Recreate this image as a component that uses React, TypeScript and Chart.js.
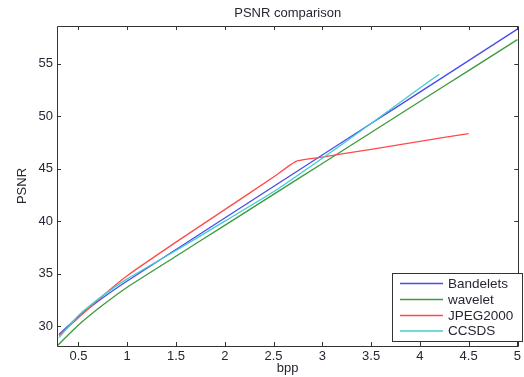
import React, { useEffect, useRef } from "react";
import { Chart, registerables } from "chart.js";

Chart.register(...registerables);

const bandeletsBpp = [0.3, 0.5, 0.75, 1, 1.5, 2, 2.5, 3, 3.5, 4, 4.5, 5];
const bandeletsPsnr = [29.2, 30.9, 32.7, 34.3, 37.3, 40.3, 43.3, 46.3, 49.3, 52.3, 55.3, 58.3];

const waveletBpp = [0.28, 0.5, 0.75, 1, 1.5, 2, 2.5, 3, 3.5, 4, 4.5, 5];
const waveletPsnr = [28.1, 30.1, 32.0, 33.7, 36.65, 39.6, 42.55, 45.5, 48.45, 51.4, 54.35, 57.3];

const jpegBpp = [0.3, 0.5, 0.75, 1, 1.5, 2, 2.5, 2.73, 3, 3.5, 4, 4.5];
const jpegPsnr = [29.1, 30.8, 32.9, 34.8, 38.0, 41.1, 44.2, 45.7, 46.1, 46.85, 47.6, 48.35];

const ccsdsBpp = [0.3, 0.5, 0.75, 1, 1.5, 2, 2.5, 3, 3.5, 4, 4.2];
const ccsdsPsnr = [28.9, 31.0, 32.9, 34.5, 37.2, 40.0, 42.8, 46.0, 49.3, 52.7, 54.0];

const xTicks = [0.5, 1, 1.5, 2, 2.5, 3, 3.5, 4, 4.5, 5];
const yTicks = [30, 35, 40, 45, 50, 55];

const seriesNames = ["Bandelets", "wavelet", "JPEG2000", "CCSDS"];
const seriesColors = ["#4a4af0", "#3c9a3c", "#ff4a4a", "#40cccc"];

const FONT = "'Liberation Sans', Arial, sans-serif";
const TEXT = "#262634";

function toPoints(xs: number[], ys: number[]) {
  return xs.map((x, i) => ({ x, y: ys[i] }));
}

const decorPlugin = {
  id: "decor",
  afterDraw(chart: any) {
    const { ctx, chartArea } = chart;
    const { left, right, top, bottom } = chartArea;
    const xs = chart.scales.x;
    const ys = chart.scales.y;
    ctx.save();
    ctx.strokeStyle = "#333333";
    ctx.lineWidth = 1;
    ctx.beginPath();
    ctx.rect(Math.round(left) + 0.5, Math.round(top) + 0.5, Math.round(right - left), Math.round(bottom - top));
    ctx.stroke();
    ctx.beginPath();
    xTicks.forEach((v) => {
      const px = Math.round(xs.getPixelForValue(v)) + 0.5;
      ctx.moveTo(px, bottom);
      ctx.lineTo(px, bottom - 4);
      ctx.moveTo(px, top);
      ctx.lineTo(px, top + 4);
    });
    yTicks.forEach((v) => {
      const py = Math.round(ys.getPixelForValue(v)) + 0.5;
      ctx.moveTo(left, py);
      ctx.lineTo(left + 4, py);
      ctx.moveTo(right, py);
      ctx.lineTo(right - 4, py);
    });
    ctx.stroke();

    ctx.fillStyle = TEXT;
    ctx.font = `13px ${FONT}`;
    ctx.textAlign = "center";
    ctx.textBaseline = "middle";
    const cx = (left + right) / 2;
    ctx.fillText("PSNR comparison", cx, 13);
    ctx.fillText("bpp", cx, 368);
    ctx.save();
    ctx.translate(22, (top + bottom) / 2);
    ctx.rotate(-Math.PI / 2);
    ctx.fillText("PSNR", 0, 0);
    ctx.restore();

    const lx = 392, ly = 273, lw = 130, lh = 68;
    ctx.fillStyle = "#ffffff";
    ctx.fillRect(lx, ly, lw, lh);
    ctx.strokeStyle = "#333333";
    ctx.lineWidth = 1;
    ctx.strokeRect(lx + 0.5, ly + 0.5, lw, lh);
    const rows = [283.5, 299.5, 315.5, 331];
    ctx.textAlign = "left";
    ctx.textBaseline = "middle";
    ctx.font = `13.5px ${FONT}`;
    chart.data.datasets.forEach((ds: any, i: number) => {
      const y = rows[i];
      ctx.strokeStyle = ds.borderColor;
      ctx.lineWidth = 1.5;
      ctx.beginPath();
      ctx.moveTo(400, y);
      ctx.lineTo(443, y);
      ctx.stroke();
      ctx.fillStyle = TEXT;
      ctx.fillText(ds.label, 448, y + 0.5);
    });
    ctx.restore();
  },
};

export default function App() {
  const ref = useRef<HTMLCanvasElement | null>(null);

  useEffect(() => {
    if (!ref.current) return;
    const seriesData = [
      toPoints(bandeletsBpp, bandeletsPsnr),
      toPoints(waveletBpp, waveletPsnr),
      toPoints(jpegBpp, jpegPsnr),
      toPoints(ccsdsBpp, ccsdsPsnr),
    ];
    const chart = new Chart(ref.current, {
      type: "line",
      data: {
        datasets: seriesData.map((d, i) => ({
          label: seriesNames[i],
          data: d,
          borderColor: seriesColors[i],
          backgroundColor: seriesColors[i],
          borderWidth: 1.3,
          pointRadius: 0,
          fill: false,
          tension: 0.15,
          order: 4 - i,
        })),
      },
      options: {
        responsive: false,
        animation: false,
        layout: { padding: { top: 26, right: 2.5, bottom: 0, left: 0 } },
        plugins: {
          legend: { display: false },
          title: { display: false },
          tooltip: { enabled: false },
        },
        scales: {
          x: {
            type: "linear",
            min: 0.28,
            max: 5.01,
            grid: { display: false, drawTicks: false },
            border: { display: false },
            ticks: {
              padding: 3,
              color: TEXT,
              font: { family: FONT, size: 13 },
              maxRotation: 0,
              callback: (v: any) => String(v),
            },
            afterBuildTicks: (scale: any) => {
              scale.ticks = xTicks.map((v) => ({ value: v }));
            },
            afterFit: (scale: any) => {
              scale.height = 31;
            },
          },
          y: {
            type: "linear",
            min: 28.1,
            max: 58.6,
            grid: { display: false, drawTicks: false },
            border: { display: false },
            ticks: {
              padding: 4,
              color: TEXT,
              font: { family: FONT, size: 13 },
              callback: (v: any) => String(v),
            },
            afterBuildTicks: (scale: any) => {
              scale.ticks = yTicks.map((v) => ({ value: v }));
            },
            afterFit: (scale: any) => {
              scale.width = 57;
            },
          },
        },
      },
      plugins: [decorPlugin],
    });
    return () => chart.destroy();
  }, []);

  return (
    <div style={{ position: "fixed", left: 0, top: 0, width: 524, height: 377, background: "#fff" }}>
      <canvas ref={ref} width={524} height={377} style={{ display: "block", width: 524, height: 377 }} />
    </div>
  );
}
